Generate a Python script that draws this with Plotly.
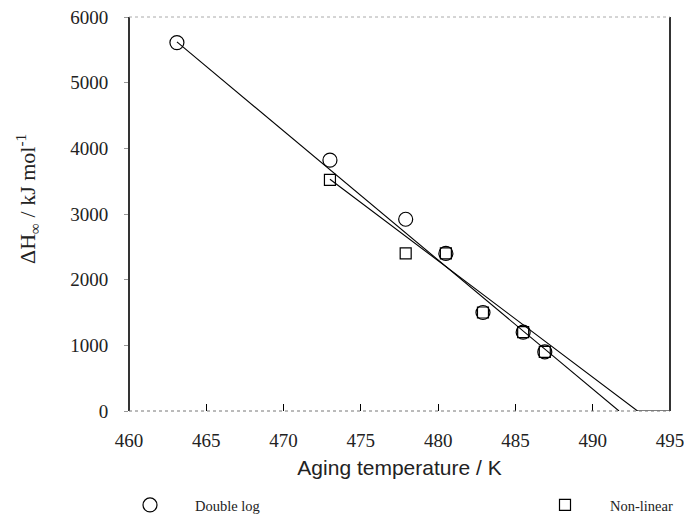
import plotly.graph_objects as go

# Data
dl_temp = [463.1, 473.0, 477.9, 480.5, 482.9, 485.5, 486.9]
dl_dh = [5610, 3820, 2920, 2400, 1500, 1200, 900]
nl_temp = [473.0, 477.9, 480.5, 482.9, 485.5, 486.9]
nl_dh = [3520, 2400, 2400, 1500, 1200, 900]

# Fitted lines (end points)
dl_fit_t = [463.1, 491.7]
dl_fit_h = [5620, 0]
nl_fit_t = [473.0, 492.9, 495.0]
nl_fit_h = [3530, 0, 0]

x_ticks = [460, 465, 470, 475, 480, 485, 490, 495]
y_ticks = [0, 1000, 2000, 3000, 4000, 5000, 6000]

serif = "Liberation Serif, Times New Roman, serif"
sans = "Liberation Sans, Arial, sans-serif"

fig = go.Figure()

fig.add_trace(go.Scatter(x=dl_fit_t, y=dl_fit_h, mode="lines",
                         line=dict(color="black", width=1.1),
                         showlegend=False, hoverinfo="skip", cliponaxis=False))
fig.add_trace(go.Scatter(x=nl_fit_t, y=nl_fit_h, mode="lines",
                         line=dict(color="black", width=1.1),
                         showlegend=False, hoverinfo="skip", cliponaxis=False))

fig.add_trace(go.Scatter(x=nl_temp, y=nl_dh, mode="markers", name="Non-linear",
                         legend="legend2",
                         marker=dict(symbol="square-open", size=11, color="black",
                                     line=dict(width=1.2, color="black")),
                         cliponaxis=False))
fig.add_trace(go.Scatter(x=dl_temp, y=dl_dh, mode="markers", name="Double log",
                         legend="legend",
                         marker=dict(symbol="circle-open", size=14, color="black",
                                     line=dict(width=1.2, color="black")),
                         cliponaxis=False))

# The page body has an 8px margin, so the figure is 684x507 and all
# screen positions below are shifted by 8px.
OFF = 8
W, H = 692 - OFF, 515 - OFF
L, R, T, B = 129 - OFF, 22, 17 - OFF, 104
PW = W - L - R
PH = H - T - B


def px_x(p):
    return (p - OFF - L) / PW


def px_y(p):
    return (H - B - (p - OFF)) / PH


legend_common = dict(orientation="h", xanchor="left", yanchor="middle",
                     font=dict(family=serif, size=14.5, color="#222"),
                     itemwidth=80, bgcolor="rgba(0,0,0,0)")

fig.update_layout(
    width=W, height=H,
    margin=dict(l=L, r=R, t=T, b=B, autoexpand=False),
    paper_bgcolor="white", plot_bgcolor="white",
    showlegend=True,
    legend=dict(x=px_x(105), y=px_y(505), **legend_common),
    legend2=dict(x=px_x(520), y=px_y(505), **legend_common),
    xaxis=dict(range=[460, 495], tickvals=x_ticks, ticktext=[str(v) for v in x_ticks],
               showgrid=False, zeroline=False, showline=False, automargin=False,
               ticks="inside", ticklen=7, tickwidth=1.2, tickcolor="black",
               ticklabelstandoff=16, ticklabeloverflow="allow",
               tickfont=dict(family=serif, size=19, color="#222"),
               title=dict(text="Aging temperature / K",
                          font=dict(family=sans, size=21, color="#222"), standoff=10)),
    yaxis=dict(range=[0, 6000], tickvals=y_ticks, ticktext=[str(v) for v in y_ticks],
               showgrid=False, zeroline=False, showline=False, automargin=False,
               ticks="outside", ticklen=4, tickwidth=1, tickcolor="#999",
               ticklabelstandoff=12, ticklabeloverflow="allow",
               tickfont=dict(family=serif, size=19, color="#222")),
    shapes=[
        dict(type="line", xref="paper", yref="paper", x0=0, x1=0, y0=0, y1=1,
             line=dict(color="black", width=1.6)),
        dict(type="line", xref="paper", yref="paper", x0=1, x1=1, y0=0, y1=1,
             line=dict(color="black", width=1.6)),
        dict(type="line", xref="paper", yref="paper", x0=0, x1=1, y0=1, y1=1,
             line=dict(color="#aaa", width=1, dash="dot")),
        dict(type="line", xref="paper", yref="paper", x0=0, x1=1, y0=0, y1=0,
             line=dict(color="#777", width=1, dash="dot")),
    ],
    annotations=[
        dict(text="ΔH<sub>∞</sub> / kJ mol<sup>-1</sup>", xref="paper", yref="paper",
             x=px_x(27), y=px_y(199), xanchor="center", yanchor="middle", textangle=-90,
             showarrow=False, font=dict(family=serif, size=22, color="#222")),
    ],
)

fig.write_html("out.html")
